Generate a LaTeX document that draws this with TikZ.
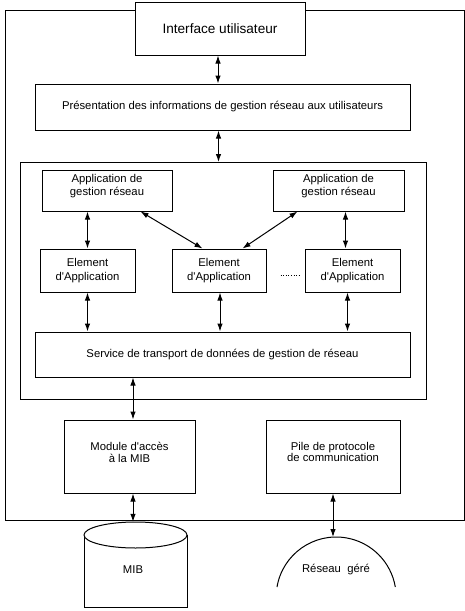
\documentclass[tikz,border=0pt]{standalone}
\usepackage{fontspec}
\setmainfont{Liberation Sans}
\usetikzlibrary{arrows.meta,calc}
\newcommand{\apo}{\textquotesingle}
\begin{document}
\begin{tikzpicture}[x=1pt,y=-1pt,
 box/.style={draw, line width=1pt, fill=white, inner sep=0pt, align=center, font=\fontsize{11.3}{13.3}\selectfont},
 frame/.style={draw, line width=1pt},
 link/.style={line width=1pt, {Latex[length=8pt,width=5.5pt]}-{Latex[length=8pt,width=5.5pt]}},
 lbl/.style={inner sep=0pt, align=center, font=\fontsize{11.3}{13.3}\selectfont},
]
\useasboundingbox (0,0) rectangle (465,611);
% frames
\draw[frame] (5,10) rectangle (464,520);
\draw[frame] (20,162) rectangle (426,399);
% boxes
\node[box, minimum width=170, minimum height=53, font=\fontsize{13.6}{15}\selectfont] (ui) at (220,28.5) {Interface utilisateur};
\node[box, minimum width=375, minimum height=46] (pres) at (222.5,107) {Présentation des informations de gestion réseau aux utilisateurs};
\node[box, minimum width=130, minimum height=41] (a1) at (107,190.5) {};
\node[lbl] at (107,186) {Application de\\gestion réseau};
\node[box, minimum width=131, minimum height=41] (a2) at (338.5,190.5) {};
\node[lbl] at (338.5,186) {Application de\\gestion réseau};
\node[box, minimum width=95, minimum height=43] (e1) at (87.5,270.5) {Element\\d\apo Application};
\node[box, minimum width=94, minimum height=43] (e2) at (219,270.5) {Element\\d\apo Application};
\node[box, minimum width=95, minimum height=43] (e3) at (352.5,270.5) {Element\\d\apo Application};
\node[box, minimum width=375, minimum height=45] (svc) at (222.5,354.5) {Service de transport de données de gestion de réseau};
\node[box, minimum width=131, minimum height=73] (mod) at (129.5,456.5) {};
\node[lbl, font=\fontsize{11.3}{11.8}\selectfont] at (129.5,452) {Module d\apo accès\\ à la MIB};
\node[box, minimum width=134, minimum height=73] (pile) at (333,456.5) {};
\node[lbl, font=\fontsize{11.3}{11.8}\selectfont] at (333,452) {Pile de protocole\\de communication};
% MIB cylinder
\node[minimum width=103, minimum height=85, inner sep=0pt] (mib) at (135.5,564.5) {};
\draw[line width=1pt, fill=white] (84,535) -- (84,607) -- (187,607) -- (187,535);
\draw[line width=1pt, fill=white] (135.5,535) ellipse [x radius=51.5, y radius=13];
\node[lbl] at (133,570) {MIB};
% Reseau gere
\draw[line width=1pt] (277,587) arc[start angle=-170.4, end angle=-9.6, radius=60];
\coordinate (nettop) at (336.5,537);
\node[lbl] (net) at (336,570) {Réseau\ \ géré};
% connectors
\draw[link] ([xshift=-2]ui.south) -- ([xshift=-2]ui.south |- pres.north);
\draw[link] ([xshift=-4]pres.south) -- ([xshift=-4]pres.south |- 0,162);
\draw[link] (a1.south -| e1.north) -- (e1.north);
\draw[link] ([xshift=-7]e3.north |- a2.south) -- ([xshift=-7]e3.north);
\draw[link] ($(a1.south east)+(-32,0)$) -- ($(e2.north west)+(31,0)$);
\draw[link] ($(a2.south west)+(25,0)$) -- ($(e2.north east)+(-24,0)$);
\draw[dotted, line width=0.6pt] ($(e2.east)+(14,5)$) -- ($(e3.west)+(-5,5)$);
\draw[link] (e1.south) -- (e1.south |- svc.north);
\draw[link] ([xshift=1]e2.south) -- ([xshift=1]e2.south |- svc.north);
\draw[link] ([xshift=-5]e3.south) -- ([xshift=-5]e3.south |- svc.north);
\draw[link] ([xshift=3.5]mod.north |- svc.south) -- ([xshift=3.5]mod.north);
\draw[link] ([xshift=3.5]mod.south) -- ([xshift=3.5]mod.south |- mib.north);
\draw[link] (pile.south) -- (pile.south |- nettop);
\end{tikzpicture}
\end{document}
